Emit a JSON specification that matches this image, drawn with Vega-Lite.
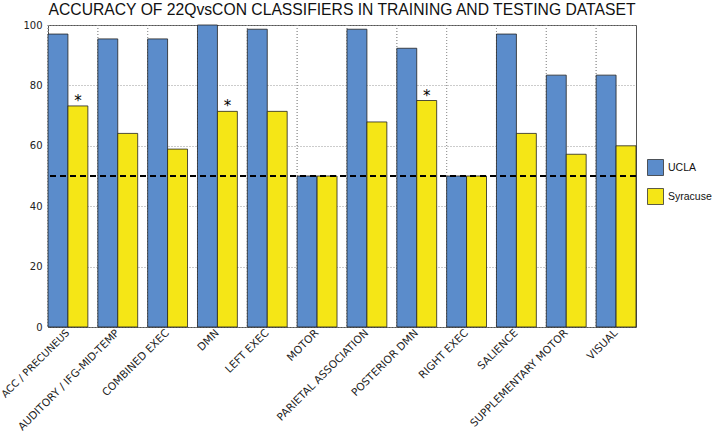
{
  "$schema": "https://vega.github.io/schema/vega-lite/v6.json",
  "width": 588,
  "height": 302,
  "autosize": {"type": "none"},
  "padding": {"left": 48, "top": 25, "right": 78, "bottom": 109},
  "title": {"text": "ACCURACY OF 22QvsCON CLASSIFIERS IN TRAINING AND TESTING DATASET", "font": "Liberation Sans", "fontSize": 15.7, "fontWeight": "normal", "color": "#111", "anchor": "middle", "offset": -6},
  "config": {
    "view": {"stroke": "#555", "strokeWidth": 1},
    "axis": {"labelFont": "DejaVu Sans", "labelFontSize": 10, "labelColor": "#222", "domain": false, "ticks": false, "title": null}
  },
  "data": {"values": [
    {"network": "ACC / PRECUNEUS", "site": "UCLA", "acc": 97.0, "sig": ""},
    {"network": "ACC / PRECUNEUS", "site": "Syracuse", "acc": 73.2, "sig": "*"},
    {"network": "AUDITORY / IFG-MID-TEMP", "site": "UCLA", "acc": 95.4, "sig": ""},
    {"network": "AUDITORY / IFG-MID-TEMP", "site": "Syracuse", "acc": 64.1, "sig": ""},
    {"network": "COMBINED EXEC", "site": "UCLA", "acc": 95.4, "sig": ""},
    {"network": "COMBINED EXEC", "site": "Syracuse", "acc": 58.9, "sig": ""},
    {"network": "DMN", "site": "UCLA", "acc": 100, "sig": ""},
    {"network": "DMN", "site": "Syracuse", "acc": 71.4, "sig": "*"},
    {"network": "LEFT EXEC", "site": "UCLA", "acc": 98.6, "sig": ""},
    {"network": "LEFT EXEC", "site": "Syracuse", "acc": 71.4, "sig": ""},
    {"network": "MOTOR", "site": "UCLA", "acc": 50, "sig": ""},
    {"network": "MOTOR", "site": "Syracuse", "acc": 50, "sig": ""},
    {"network": "PARIETAL ASSOCIATION", "site": "UCLA", "acc": 98.6, "sig": ""},
    {"network": "PARIETAL ASSOCIATION", "site": "Syracuse", "acc": 67.9, "sig": ""},
    {"network": "POSTERIOR DMN", "site": "UCLA", "acc": 92.3, "sig": ""},
    {"network": "POSTERIOR DMN", "site": "Syracuse", "acc": 75.0, "sig": "*"},
    {"network": "RIGHT EXEC", "site": "UCLA", "acc": 50, "sig": ""},
    {"network": "RIGHT EXEC", "site": "Syracuse", "acc": 50, "sig": ""},
    {"network": "SALIENCE", "site": "UCLA", "acc": 97.0, "sig": ""},
    {"network": "SALIENCE", "site": "Syracuse", "acc": 64.1, "sig": ""},
    {"network": "SUPPLEMENTARY MOTOR", "site": "UCLA", "acc": 83.4, "sig": ""},
    {"network": "SUPPLEMENTARY MOTOR", "site": "Syracuse", "acc": 57.2, "sig": ""},
    {"network": "VISUAL", "site": "UCLA", "acc": 83.4, "sig": ""},
    {"network": "VISUAL", "site": "Syracuse", "acc": 60.0, "sig": ""}
  ]},
  "layer": [
    {
      "mark": {"type": "rule", "color": "#999", "strokeDash": [1, 2], "strokeWidth": 1},
      "encoding": {
        "x": {"field": "network", "type": "nominal", "sort": null, "bandPosition": 0}
      }
    },
    {
      "mark": {"type": "bar", "stroke": "#222", "strokeWidth": 0.8},
      "encoding": {
        "x": {"field": "network", "type": "nominal", "sort": null,
          "scale": {"paddingInner": 0.2, "paddingOuter": 0, "align": 0},
          "axis": {"labelAngle": -45, "labelPadding": 4, "grid": false, "labelFontSize": {"condition": {"test": "datum.value == 'ACC / PRECUNEUS'", "value": 10}, "value": 10.6}}},
        "xOffset": {"field": "site", "type": "nominal", "sort": ["UCLA", "Syracuse"], "scale": {"paddingInner": 0, "paddingOuter": 0}},
        "y": {"field": "acc", "type": "quantitative", "scale": {"domain": [0, 100], "nice": false},
          "axis": {"values": [0, 20, 40, 60, 80, 100], "grid": true, "gridColor": "#999", "gridDash": [1, 2], "labelPadding": 6}},
        "color": {"field": "site", "type": "nominal", "sort": ["UCLA", "Syracuse"],
          "scale": {"domain": ["UCLA", "Syracuse"], "range": ["#5b8ccb", "#f5e616"]},
          "legend": {"title": null, "orient": "none", "legendX": 599, "legendY": 134, "symbolType": "square", "symbolSize": 256, "symbolStrokeColor": "#333", "symbolStrokeWidth": 0.8, "symbolOpacity": 1, "labelFont": "Liberation Sans", "labelFontSize": 10.5, "labelColor": "#111", "rowPadding": 8, "labelOffset": 4}}
      }
    },
    {
      "mark": {"type": "rule", "color": "#000", "strokeDash": [6, 4], "strokeWidth": 1.5},
      "encoding": {"y": {"datum": 50}}
    },
    {
      "mark": {"type": "text", "font": "DejaVu Sans", "fontSize": 15, "baseline": "alphabetic", "dy": 0, "color": "#000"},
      "encoding": {
        "x": {"field": "network", "type": "nominal", "sort": null},
        "xOffset": {"field": "site", "type": "nominal", "sort": ["UCLA", "Syracuse"]},
        "y": {"field": "acc", "type": "quantitative"},
        "text": {"field": "sig"}
      }
    }
  ]
}
